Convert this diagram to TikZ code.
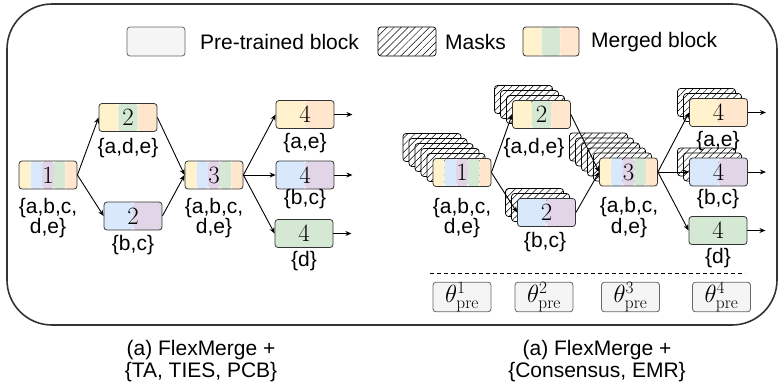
\documentclass[tikz,border=0pt]{standalone}
\usepackage[no-math]{fontspec}
\setmainfont{Liberation Sans}
\usetikzlibrary{calc,patterns.meta,arrows.meta}
\definecolor{cy}{HTML}{FFF2CC}
\definecolor{cb}{HTML}{DAE8FC}
\definecolor{cp}{HTML}{E1D5E7}
\definecolor{cg}{HTML}{D5E8D4}
\definecolor{co}{HTML}{FFE6CC}
\definecolor{pregray}{HTML}{F5F5F5}
\definecolor{edgegray}{HTML}{666666}
\tikzset{
  blk/.style={draw=black!80, line width=0.8pt, rounded corners=3pt, minimum width=58pt, minimum height=28pt, inner sep=0pt, font=\fontsize{25}{25}\selectfont},
  stripes/.style 2 args={path picture={
    \foreach \c [count=\i from 0] in {#2}{
      \fill[\c] ($(path picture bounding box.south west)!{\i/#1}!(path picture bounding box.south east)$) rectangle ($(path picture bounding box.north west)!{(\i+1)/#1}!(path picture bounding box.north east)$);
    }}},
  maskbox/.style={draw=black, line width=0.7pt, rounded corners=3pt, minimum width=58pt, minimum height=28pt, inner sep=0pt, preaction={fill=white}, pattern={Lines[angle=45,distance=5pt,line width=0.5pt]}},
  prebox/.style={draw=edgegray, line width=0.8pt, fill=pregray, rounded corners=3pt, minimum width=58pt, minimum height=28pt, inner sep=0pt, font=\fontsize{24}{24}\selectfont},
  lbl/.style={font=\fontsize{21}{20.5}\selectfont, align=center, inner sep=0pt},
  arr/.style={-{Stealth[length=6pt,width=5pt]}, line width=0.9pt},
}
\newcommand\maskstack[3]{%
  \foreach \k in {#2,...,1}{\node[maskbox] (m#1-\k) at ($(#3)+(-6*\k,-5*\k)$) {};}}
\begin{document}
\begin{tikzpicture}[x=1pt,y=-1pt]
\useasboundingbox (0,0) rectangle (779,386);
\draw[line width=1.6pt, draw=black!80, rounded corners=45pt] (7,4) rectangle (777,325);

% legend
\node[prebox, minimum height=29pt] (legpre) at (156,41.5) {};
\node[lbl, anchor=west] (legpret) at (200,42) {Pre-trained block};
\node[maskbox, minimum height=29pt] (legmask) at (407,41.5) {};
\node[lbl, anchor=west] (legmaskt) at (445,42) {Masks};
\node[blk, minimum width=56pt, minimum height=29pt, stripes={3}{cy,cg,co}] (legmer) at (551,41.5) {};
\node[lbl, anchor=west] (legmert) at (591,42) {Merged block};

% left diagram
\node[blk, stripes={5}{cy,cb,cp,cg,co}] (L1) at (48,175) {$1$};
\node[blk, stripes={3}{cy,cg,co}] (L2a) at (128,117.5) {$2$};
\node[blk, stripes={2}{cb,cp}] (L2b) at (133,216) {$2$};
\node[blk, stripes={5}{cy,cb,cp,cg,co}] (L3) at (214,175) {$3$};
\node[blk, stripes={2}{cy,co}] (L4a) at (305,114.5) {$4$};
\node[blk, stripes={2}{cb,cp}] (L4b) at (305,175) {$4$};
\node[blk, fill=cg] (L4c) at (304,233.5) {$4$};

\node[lbl] (tL1) at (48,218) {\{a,b,c,\\d,e\}};
\node[lbl] (tL2a) at (128,148) {\{a,d,e\}};
\node[lbl] (tL2b) at (133,245) {\{b,c\}};
\node[lbl] (tL3) at (214,218) {\{a,b,c,\\d,e\}};
\node[lbl] (tL4a) at (305,143) {\{a,e\}};
\node[lbl] (tL4b) at (305,199) {\{b,c\}};
\node[lbl] (tL4c) at (304,261) {\{d\}};

\draw[arr] (L1.east) -- (L2a.west);
\draw[arr] (L1.east) -- (L2b.west);
\draw[arr] (L2a.east) -- (L3.west);
\draw[arr] (L2b.east) -- (L3.west);
\draw[arr] (L3.east) -- (L4a.west);
\draw[arr] (L3.east) -- (L4b.west);
\draw[arr] (L3.east) -- (L4c.west);
\draw[arr] (L4a.east) -- ++(18,0);
\draw[arr] (L4b.east) -- ++(18,0);
\draw[arr] (L4c.east) -- ++(18,0);

% right diagram
\coordinate (cR1) at (462,172.5);
\coordinate (cR2a) at (541.5,114.5);
\coordinate (cR2b) at (546.5,212.5);
\coordinate (cR3) at (628.5,172);
\coordinate (cR4a) at (718.5,112.5);
\coordinate (cR4b) at (718.5,172);
\coordinate (cR4c) at (718,230.5);

\maskstack{R1}{5}{cR1}
\maskstack{R2a}{3}{cR2a}
\maskstack{R2b}{2}{cR2b}
\maskstack{R3}{5}{cR3}
\maskstack{R4a}{2}{cR4a}
\maskstack{R4b}{2}{cR4b}

\node[blk, stripes={5}{cy,cb,cp,cg,co}] (R1) at (cR1) {$1$};
\node[blk, stripes={3}{cy,cg,co}] (R2a) at (cR2a) {$2$};
\node[blk, stripes={2}{cb,cp}] (R2b) at (cR2b) {$2$};
\node[blk, stripes={5}{cy,cb,cp,cg,co}] (R3) at (cR3) {$3$};
\node[blk, stripes={2}{cy,co}] (R4a) at (cR4a) {$4$};
\node[blk, stripes={2}{cb,cp}] (R4b) at (cR4b) {$4$};
\node[blk, fill=cg] (R4c) at (cR4c) {$4$};

\node[lbl] (tR1) at (462,218) {\{a,b,c,\\d,e\}};
\node[lbl] (tR2a) at (534,148) {\{a,d,e\}};
\node[lbl] (tR2b) at (545,242) {\{b,c\}};
\node[lbl] (tR3) at (629,217.5) {\{a,b,c,\\d,e\}};
\node[lbl] (tR4a) at (718,141) {\{a,e\}};
\node[lbl] (tR4b) at (718,199) {\{b,c\}};
\node[lbl] (tR4c) at (718,258) {\{d\}};

\draw[arr] (R1.east) -- (R2a.west);
\draw[arr] (R1.east) -- (R2b.west);
\draw[arr] (R2a.east) -- (R3.west);
\draw[arr] (R2b.east) -- (R3.west);
\draw[arr] (R3.east) -- (R4a.west);
\draw[arr] (R3.east) -- (R4b.west);
\draw[arr] (R3.east) -- (R4c.west);
\draw[arr] (R4a.east) -- ++(18,0);
\draw[arr] (R4b.east) -- ++(18,0);
\draw[arr] (R4c.east) -- ++(18,0);

% dashed separator and pre-trained blocks
\coordinate (dashA) at (430,273);
\coordinate (dashB) at (745,273);
\draw[line width=0.9pt, dash pattern=on 4pt off 3pt] (dashA) -- (dashB);
\node[prebox] (P1) at (462,297) {$\theta^{1}_{\mathrm{pre}}$};
\node[prebox] (P2) at (544,297) {$\theta^{2}_{\mathrm{pre}}$};
\node[prebox] (P3) at (630.5,297) {$\theta^{3}_{\mathrm{pre}}$};
\node[prebox] (P4) at (721.5,297) {$\theta^{4}_{\mathrm{pre}}$};

% captions
\node[lbl, font=\fontsize{21}{22}\selectfont] (capL) at (201,361) {(a) FlexMerge +\\\{TA, TIES, PCB\}};
\node[lbl, font=\fontsize{21}{22}\selectfont] (capR) at (597,361) {(a) FlexMerge +\\\{Consensus, EMR\}};
\end{tikzpicture}
\end{document}
